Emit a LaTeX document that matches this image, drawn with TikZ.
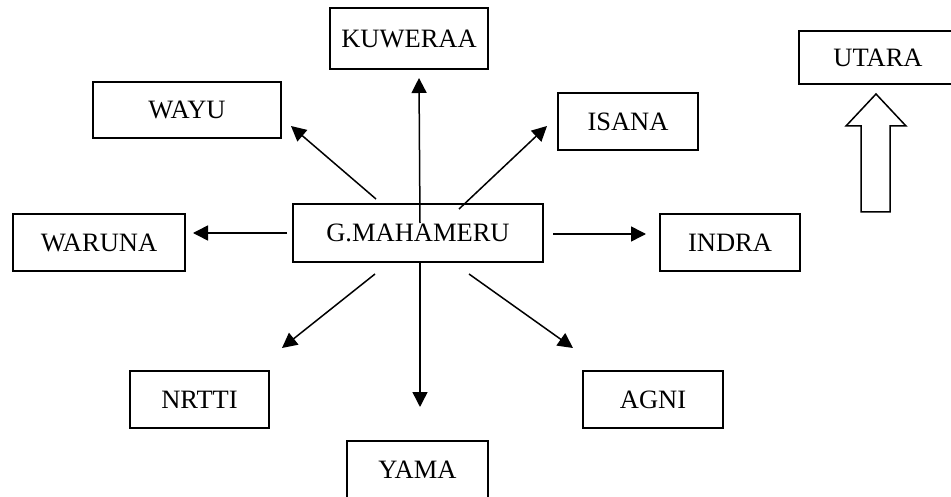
\documentclass[tikz,border=0pt]{standalone}
\usepackage{fontspec}
\setmainfont{Liberation Serif}
\usetikzlibrary{arrows.meta}
\begin{document}
\begin{tikzpicture}[x=1pt,y=-1pt,
  box/.style={draw,line width=1.5pt,inner sep=0pt,font=\fontsize{26.5}{30}\selectfont,minimum height=57pt},
  conn/.style={line width=1.5pt,-{Triangle[length=15pt,width=15pt]}}]
\useasboundingbox (0,0) rectangle (951,497);
\clip (0,0) rectangle (951,497);
\fill[white] (0,0) rectangle (951,497);
% boxes
\node[box,minimum width=158pt,minimum height=61pt] (kuweraa) at (409,38.5) {KUWERAA};
\node[box,minimum width=188pt,minimum height=56pt] (wayu) at (187,110) {WAYU};
\node[box,minimum width=140pt] (isana) at (628,121.5) {ISANA};
\node[box,minimum width=158pt,minimum height=53pt] (utara) at (878,57.5) {UTARA};
\node[box,minimum width=172pt] (waruna) at (99,242.5) {WARUNA};
\node[box,minimum width=250pt,minimum height=58pt] (meru) at (418,233) {G.MAHAMERU};
\node[box,minimum width=140pt] (indra) at (730,242.5) {INDRA};
\node[box,minimum width=139pt] (nrtti) at (199.5,399.5) {NRTTI};
\node[box,minimum width=140pt] (agni) at (653,399.5) {AGNI};
\node[box,minimum width=141pt,minimum height=58pt] (yama) at (417.5,470) {YAMA};
% connector end points
\coordinate (kS) at (420,223); \coordinate (kE) at (419,78);
\coordinate (wS) at (376,199); \coordinate (wE) at (291,126);
\coordinate (iS) at (459,209); \coordinate (iE) at (547,126);
\coordinate (waS) at (287,233); \coordinate (waE) at (193,233);
\coordinate (inS) at (553,234); \coordinate (inE) at (646,234);
\coordinate (nS) at (375,274); \coordinate (nE) at (282,348);
\coordinate (aS) at (469,274); \coordinate (aE) at (573,348);
\coordinate (yS) at (420,262); \coordinate (yE) at (420,407);
\draw[conn] (kS) -- (kE);
\draw[conn] (wS) -- (wE);
\draw[conn] (iS) -- (iE);
\draw[conn] (waS) -- (waE);
\draw[conn] (inS) -- (inE);
\draw[conn] (nS) -- (nE);
\draw[conn] (aS) -- (aE);
\draw[conn] (yS) -- (yE);
% hollow north arrow
\draw[line width=1.5pt,line join=miter] (861,212) -- (861,126) -- (846,126) -- (876,94) -- (906,126) -- (890,126) -- (890,212) -- cycle;
\end{tikzpicture}
\end{document}
